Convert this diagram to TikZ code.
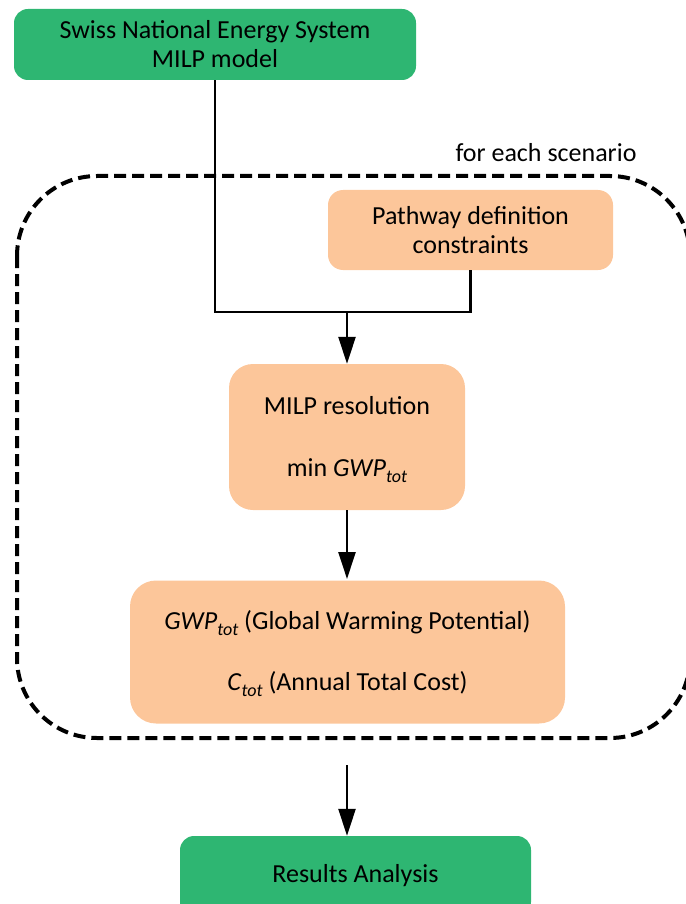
\documentclass[tikz,border=0pt]{standalone}
\usepackage{fontspec}
\setmainfont{Carlito}
\usetikzlibrary{arrows.meta}
\definecolor{boxgreen}{RGB}{46,182,114}
\definecolor{boxpeach}{RGB}{252,198,154}
\newcommand\lowsub[1]{\smash{\raisebox{-6pt}{\fontsize{18}{18}\selectfont\itshape #1}}}
\begin{document}
\begin{tikzpicture}[x=1pt,y=-1pt,
  every node/.style={font=\fontsize{26}{29}\selectfont, align=center, inner sep=0pt},
  greenbox/.style={fill=boxgreen, rounded corners=14pt},
  peachbox/.style={fill=boxpeach},
  conn/.style={line width=2.6pt, line cap=butt},
  arr/.style={conn, -{Triangle[length=27pt,width=17pt]}},
  loopframe/.style={line width=4pt, dash pattern=on 12pt off 6pt, rounded corners=80pt}]
\useasboundingbox (0,0) rectangle (685,904);
% dashed scenario frame
\draw[loopframe] (17,176) rectangle (690,738);
\node (scen) at (546,153) {for each scenario};
% boxes
\node[greenbox, minimum width=402pt, minimum height=71pt] (top) at (215,44.5)
  {Swiss National Energy System\\MILP model};
\node[peachbox, rounded corners=15pt, minimum width=285pt, minimum height=80pt] (pw) at (470.5,230)
  {Pathway definition\\constraints};
\node[peachbox, rounded corners=24pt, minimum width=236pt, minimum height=146pt] (milp) at (347,437)
  {MILP resolution\\[33pt]min \textit{GWP}\lowsub{tot}};
\node[peachbox, rounded corners=26pt, minimum width=435pt, minimum height=143pt] (res) at (347.5,652)
  {\textit{GWP}\lowsub{tot} (Global Warming Potential)\\[32pt]\textit{C}\lowsub{tot} (Annual Total Cost)};
\node[greenbox, minimum width=351pt, minimum height=80pt] (ra) at (355.5,876)
  {Results Analysis};
% connectors
\coordinate (j) at (347,312);
\draw[conn] (top.south) |- (j) -| (pw.south);
\draw[arr] (j) -- (milp.north);
\draw[arr] (347,510) -- (347,579);
\coordinate (c) at (347,765);
\draw[arr] (c) -- (c |- ra.north);
\end{tikzpicture}
\end{document}
